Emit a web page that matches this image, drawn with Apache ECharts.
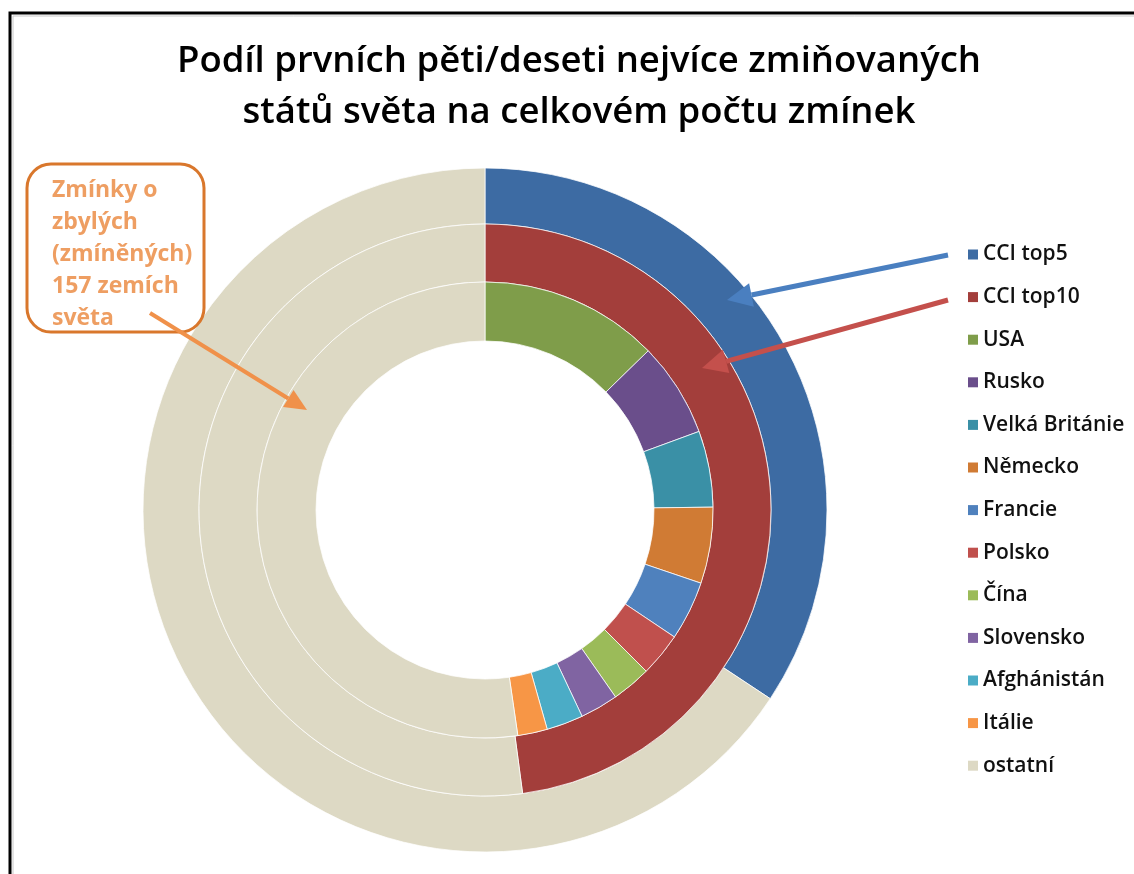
<!DOCTYPE html>
<html>
<head>
<meta charset="utf-8">
<script src="https://cdn.jsdelivr.net/npm/echarts@6/dist/echarts.min.js"></script>
<style>
  html, body { margin: 0; padding: 0; background: #fff; }
  #chart { width: 1134px; height: 874px; }
</style>
</head>
<body>
<div id="chart"></div>
<script>
// ===== 数据 =====
var countries = ['USA', 'Rusko', 'Velká Británie', 'Německo', 'Francie',
                 'Polsko', 'Čína', 'Slovensko', 'Afghánistán', 'Itálie'];
var countryShare = [12.7, 6.7, 5.4, 5.4, 4.2, 3.1, 2.8, 2.7, 2.6, 2.1];
var countryRest = 52.3;

var top5Share = 34.3, top5Rest = 65.7;
var top10Share = 47.9, top10Rest = 52.1;

var legendOrder = ['CCI top5', 'CCI top10'].concat(countries, ['ostatní']);

var colors = {
    'CCI top5': '#3d6ba3',
    'CCI top10': '#a33e3b',
    'USA': '#7f9d4a',
    'Rusko': '#6a4e8b',
    'Velká Británie': '#3a90a6',
    'Německo': '#d07b34',
    'Francie': '#4f81bd',
    'Polsko': '#c0504d',
    'Čína': '#9bbb59',
    'Slovensko': '#8064a2',
    'Afghánistán': '#4bacc6',
    'Itálie': '#f79646',
    'ostatní': '#ddd9c4'
};

function item(name, value) {
    return { name: name, value: value, itemStyle: { color: colors[name] } };
}

var innerData = countries.map(function (c, i) { return item(c, countryShare[i]); });
innerData.push(item('ostatní', countryRest));

// ===== 箭头 =====
function arrow(x1, y1, x2, y2, color, w, headLen, headW) {
    var dx = x2 - x1, dy = y2 - y1;
    var len = Math.sqrt(dx * dx + dy * dy);
    var ux = dx / len, uy = dy / len;
    var bx = x2 - ux * headLen, by = y2 - uy * headLen;
    var px = -uy * headW / 2, py = ux * headW / 2;
    return [
        { type: 'line', z: 10, shape: { x1: x1, y1: y1, x2: bx, y2: by },
          style: { stroke: color, lineWidth: w, lineCap: 'butt' } },
        { type: 'polygon', z: 10, shape: { points: [[x2, y2], [bx + px, by + py], [bx - px, by - py]] },
          style: { fill: color } }
    ];
}

var chart = echarts.init(document.getElementById('chart'));

var ringCommon = {
    type: 'pie',
    center: [485, 510],
    startAngle: 90,
    clockwise: true,
    label: { show: false },
    labelLine: { show: false },
    silent: true,
    animation: false,
    itemStyle: { borderColor: 'rgba(255,255,255,0.75)', borderWidth: 1 }
};

var titleFont = '600 36.5px "Open Sans"';

var graphics = [
    { type: 'rect', z: 0, shape: { x: 10, y: 13, width: 1200, height: 1000 },
      style: { fill: null, stroke: '#000', lineWidth: 3 } },
    { type: 'rect', z: 0, shape: { x: 13, y: 16, width: 1200, height: 1000 },
      style: { fill: null, stroke: '#c8c8c8', lineWidth: 1 } },
    { type: 'text', z: 10, style: {
        x: 579, y: 62, text: 'Podíl prvních pěti/deseti nejvíce zmiňovaných',
        fill: '#000', font: titleFont, align: 'center', verticalAlign: 'middle' } },
    { type: 'text', z: 10, style: {
        x: 579, y: 113, text: 'států světa na celkovém počtu zmínek',
        fill: '#000', font: titleFont, align: 'center', verticalAlign: 'middle' } },
    { type: 'rect', z: 10, shape: { x: 27, y: 164, width: 177, height: 168, r: 24 },
      style: { fill: null, stroke: '#d9772c', lineWidth: 3 } },
    { type: 'text', z: 10, style: {
        x: 52, y: 174, text: 'Zmínky o\nzbylých\n(zmíněných)\n157 zemích\nsvěta',
        fill: '#ee9e62', font: 'bold 23px "Open Sans"', lineHeight: 32 } }
];
graphics = graphics
    .concat(arrow(948, 255, 727, 300, '#4a7fc0', 5, 25, 24))
    .concat(arrow(948, 300, 702, 368, '#c4504c', 5, 25, 24))
    .concat(arrow(150, 313, 307, 410, '#f0914a', 4, 22, 20));

chart.setOption({
    backgroundColor: '#ffffff',
    animation: false,
    legend: {
        orient: 'vertical',
        left: 963,
        top: 239,
        data: legendOrder,
        itemWidth: 10,
        itemHeight: 10,
        itemGap: 21.6,
        icon: 'rect',
        selectedMode: false,
        itemStyle: { borderWidth: 0 },
        textStyle: { fontFamily: 'Open Sans', fontSize: 21, fontWeight: 600, color: '#111', lineHeight: 20 }
    },
    series: [
        Object.assign({}, ringCommon, {
            name: 'outer', radius: [286, 342],
            data: [item('CCI top5', top5Share), item('ostatní', top5Rest)]
        }),
        Object.assign({}, ringCommon, {
            name: 'middle', radius: [228, 286],
            data: [item('CCI top10', top10Share), item('ostatní', top10Rest)]
        }),
        Object.assign({}, ringCommon, {
            name: 'inner', radius: [169, 228],
            data: innerData
        })
    ],
    graphic: graphics
});
</script>
</body>
</html>
